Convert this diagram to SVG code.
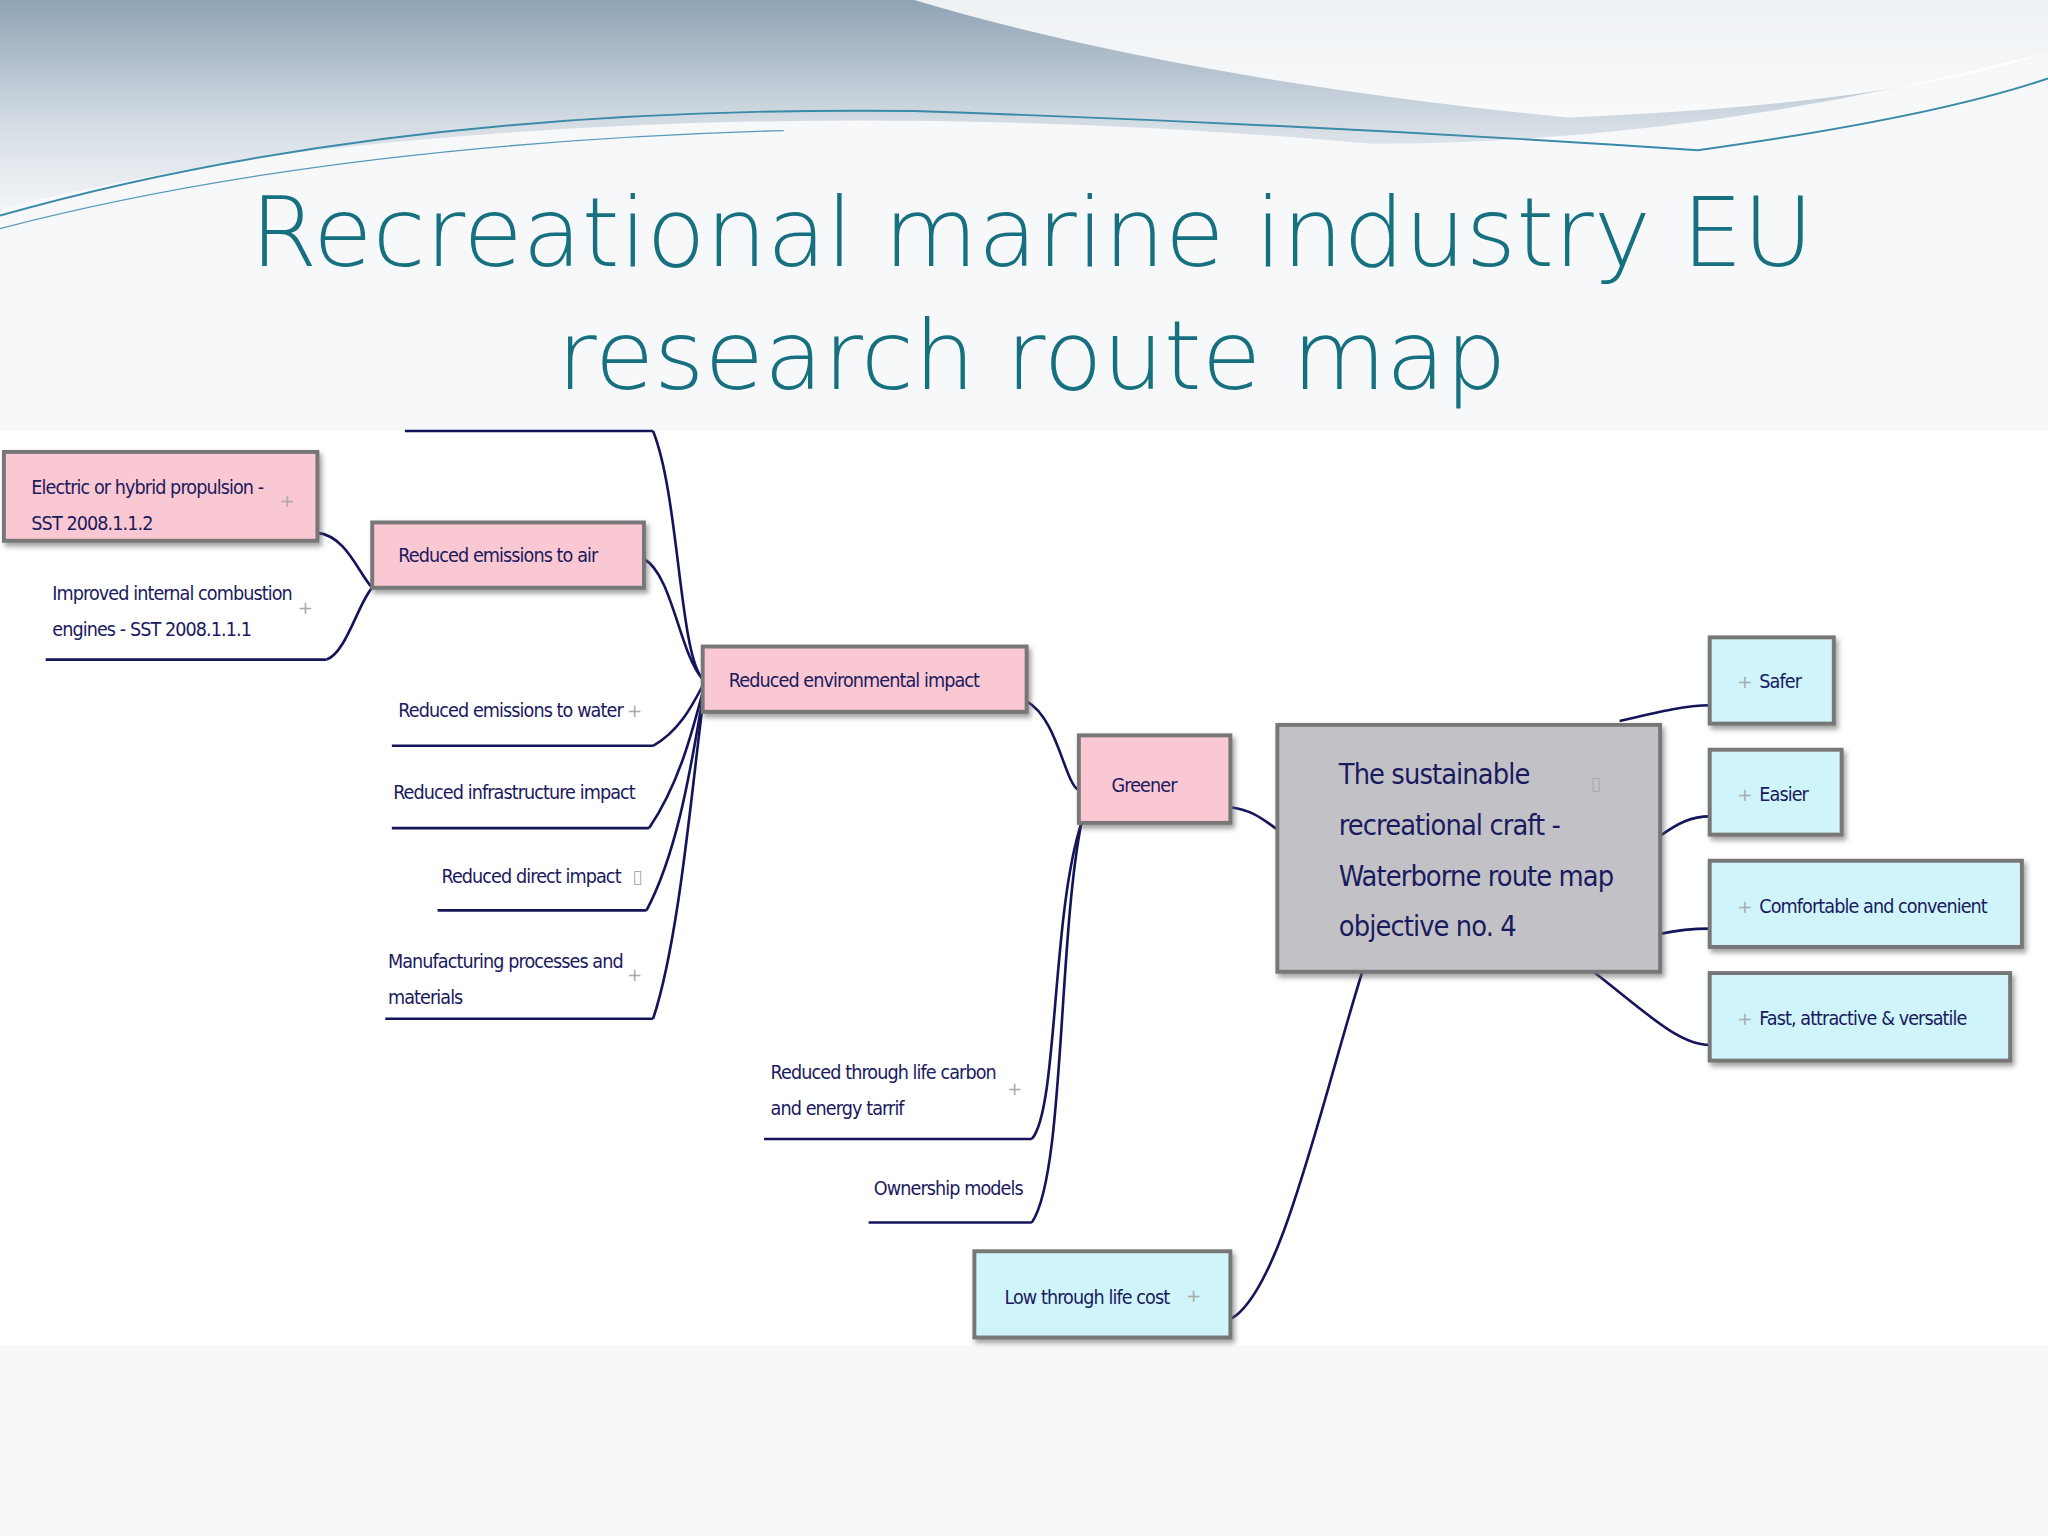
<svg xmlns="http://www.w3.org/2000/svg" width="2048" height="1536" viewBox="0 0 2048 1536">
<defs>
<linearGradient id="sky" x1="0" y1="0" x2="0" y2="1"><stop offset="0" stop-color="#8fa3b5"/><stop offset="0.6" stop-color="#d5dde4"/><stop offset="1" stop-color="#f2f5f8"/></linearGradient>
<filter id="sh" x="-10%" y="-10%" width="130%" height="140%"><feDropShadow dx="2" dy="3" stdDeviation="2" flood-color="#666" flood-opacity="0.6"/></filter>
</defs>
<style>
.t{font-family:"DejaVu Sans",sans-serif;font-stretch:condensed;font-size:15px;fill:#1a1a5e;letter-spacing:-0.7px}
.pink{fill:#fac8d2;stroke:#777;stroke-width:3}
.cyan{fill:#cff5fa;stroke:#777;stroke-width:3}
.gray{fill:#c2c2c6;stroke:#777;stroke-width:3}
.c{fill:none;stroke:#14145a;stroke-width:2}
.u{fill:none;stroke:#14145a;stroke-width:2}
.p{font-family:"DejaVu Sans",sans-serif;font-size:14px;fill:#aaa}
.ti{font-family:"DejaVu Sans",sans-serif;font-size:74px;fill:#17707f;font-weight:300}
</style>
<rect width="2048" height="1536" fill="#f7f8fa"/>
<g transform="scale(1.30612)">
<path d="M0,0 H1568 V40 Q1300,110 1050,110 Q600,70 200,120 Q80,140 0,160 Z" fill="url(#sky)"/>
<path d="M700,0 Q900,60 1200,90 Q1450,80 1568,40 V0 Z" fill="#ffffff" opacity="0.85"/>
<path d="M0,165 Q300,80 700,85 Q1000,95 1300,115 Q1480,90 1568,60" fill="none" stroke="#3a8aa8" stroke-width="1.5"/>
<path d="M0,175 Q250,110 600,100" fill="none" stroke="#5a9ab8" stroke-width="1"/>
<text class="ti" x="790" y="204" text-anchor="middle">Recreational marine industry EU</text>
<text class="ti" x="790" y="298" text-anchor="middle">research route map</text>
<rect x="0" y="330" width="1568" height="700" fill="#ffffff"/>

<g id="connectors">
<path class="c" d="M500,330 C520,380 520,500 538,520"/>
<path class="c" d="M493,428 C515,440 520,500 538,520"/>
<path class="c" d="M500,571 C520,560 530,540 538,525"/>
<path class="c" d="M497,634 C520,600 530,560 538,530"/>
<path class="c" d="M495,697 C520,650 530,580 538,535"/>
<path class="c" d="M500,780 C520,720 530,600 538,540"/>
<path class="c" d="M243,408 C265,410 275,440 285,450"/>
<path class="c" d="M250,505 C265,500 275,460 285,450"/>
<path class="c" d="M786,537 C810,550 815,600 826,605"/>
<path class="c" d="M828,630 C805,700 810,850 790,872"/>
<path class="c" d="M828,630 C810,720 815,900 790,936"/>
<path class="c" d="M942,618 C960,620 970,630 978,635" stroke-width="3"/>
<path class="c" d="M1043,744 C1010,850 980,990 942,1010" stroke-width="3"/>
<path class="c" d="M1240,552 C1270,545 1290,540 1309,540" stroke-width="3"/>
<path class="c" d="M1271,640 C1285,630 1295,625 1309,625" stroke-width="3"/>
<path class="c" d="M1271,715 C1285,712 1295,711 1309,711" stroke-width="3"/>
<path class="c" d="M1220,744 C1260,775 1285,800 1309,800" stroke-width="3"/>
</g>

<g id="n-top"><path class="u" d="M310,330 H500"/></g>
<g id="n-electric"><rect class="pink" x="3" y="346" width="240" height="68" filter="url(#sh)"/>
<text class="t" x="24" y="378">Electric or hybrid propulsion -</text><text class="t" x="24" y="406">SST 2008.1.1.2</text><text class="p" x="214" y="388">+</text></g>
<g id="n-improved"><path class="u" d="M35,505 H250"/><text class="t" x="40" y="459">Improved internal combustion</text><text class="t" x="40" y="487">engines - SST 2008.1.1.1</text><text class="p" x="228" y="470">+</text></g>
<g id="n-air"><rect class="pink" x="285" y="400" width="208" height="50" filter="url(#sh)"/><text class="t" x="305" y="430">Reduced emissions to air</text></g>
<g id="n-env"><rect class="pink" x="538" y="495" width="248" height="50" filter="url(#sh)"/><text class="t" x="558" y="526">Reduced environmental impact</text></g>
<g id="n-water"><path class="u" d="M300,571 H500"/><text class="t" x="305" y="549">Reduced emissions to water</text><text class="p" x="480" y="549">+</text></g>
<g id="n-infra"><path class="u" d="M300,634 H497"/><text class="t" x="301" y="612">Reduced infrastructure impact</text></g>
<g id="n-direct"><path class="u" d="M335,697 H495"/><text class="t" x="338" y="676">Reduced direct impact</text><text class="p" x="484" y="676">▯</text></g>
<g id="n-manu"><path class="u" d="M295,780 H500"/><text class="t" x="297" y="741">Manufacturing processes and</text><text class="t" x="297" y="769">materials</text><text class="p" x="480" y="751">+</text></g>
<g id="n-greener"><rect class="pink" x="826" y="563" width="116" height="67" filter="url(#sh)"/><text class="t" x="851" y="606">Greener</text></g>
<g id="n-carbon"><path class="u" d="M585,872 H790"/><text class="t" x="590" y="826">Reduced through life carbon</text><text class="t" x="590" y="854">and energy tarrif</text><text class="p" x="771" y="838">+</text></g>
<g id="n-own"><path class="u" d="M665,936 H790"/><text class="t" x="669" y="915">Ownership models</text></g>
<g id="n-low"><rect class="cyan" x="746" y="958" width="196" height="66" filter="url(#sh)"/><text class="t" x="769" y="998">Low through life cost</text><text class="p" x="908" y="997">+</text></g>
<g id="n-center"><rect class="gray" x="978" y="555" width="293" height="189" filter="url(#sh)"/>
<text class="t" x="1025" y="600" style="font-size:22px">The sustainable</text><text class="t" x="1025" y="639" style="font-size:22px">recreational craft -</text><text class="t" x="1025" y="678" style="font-size:22px">Waterborne route map</text><text class="t" x="1025" y="717" style="font-size:22px">objective no. 4</text><text class="p" x="1218" y="605">▯</text></g>
<g id="n-safer"><rect class="cyan" x="1309" y="488" width="95" height="66" filter="url(#sh)"/><text class="p" x="1330" y="527">+</text><text class="t" x="1347" y="527">Safer</text></g>
<g id="n-easier"><rect class="cyan" x="1309" y="574" width="101" height="65" filter="url(#sh)"/><text class="p" x="1330" y="613">+</text><text class="t" x="1347" y="613">Easier</text></g>
<g id="n-comf"><rect class="cyan" x="1309" y="659" width="239" height="66" filter="url(#sh)"/><text class="p" x="1330" y="699">+</text><text class="t" x="1347" y="699">Comfortable and convenient</text></g>
<g id="n-fast"><rect class="cyan" x="1309" y="745" width="230" height="67" filter="url(#sh)"/><text class="p" x="1330" y="785">+</text><text class="t" x="1347" y="785">Fast, attractive &amp; versatile</text></g>
</g>
</svg>
